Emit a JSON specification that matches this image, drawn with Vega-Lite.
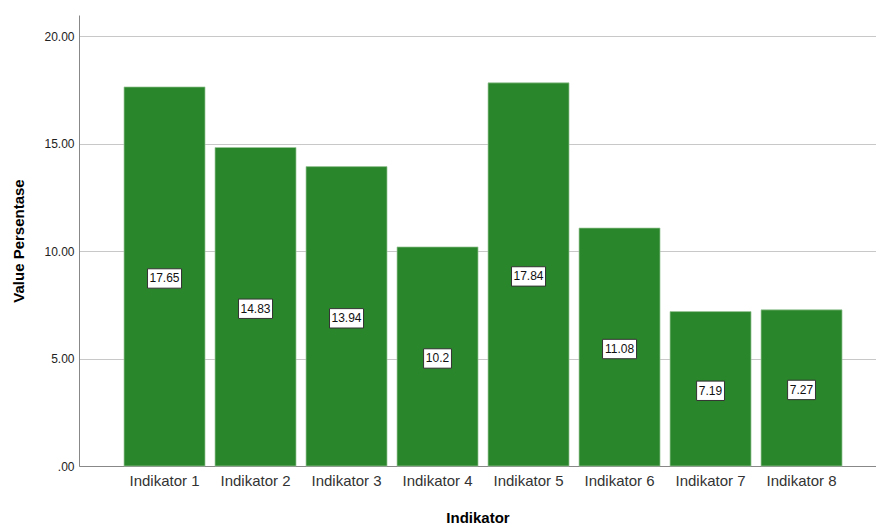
{
  "$schema": "https://vega.github.io/schema/vega-lite/v6.json",
  "autosize": "none",
  "width": 797,
  "height": 451,
  "padding": {"left": 79, "top": 15, "right": 0, "bottom": 59},
  "background": "white",
  "config": {
    "view": {"stroke": null},
    "font": "Liberation Sans"
  },
  "data": {
    "values": [
      {"indikator": "Indikator 1", "value": 17.65, "label": "17.65"},
      {"indikator": "Indikator 2", "value": 14.83, "label": "14.83"},
      {"indikator": "Indikator 3", "value": 13.94, "label": "13.94"},
      {"indikator": "Indikator 4", "value": 10.2, "label": "10.2"},
      {"indikator": "Indikator 5", "value": 17.84, "label": "17.84"},
      {"indikator": "Indikator 6", "value": 11.08, "label": "11.08"},
      {"indikator": "Indikator 7", "value": 7.19, "label": "7.19"},
      {"indikator": "Indikator 8", "value": 7.27, "label": "7.27"}
    ]
  },
  "encoding": {
    "x": {
      "field": "indikator",
      "type": "nominal",
      "sort": null,
      "scale": {"paddingInner": 0.11, "paddingOuter": 0.434, "align": 0.57},
      "axis": {
        "title": "Indikator",
        "titleFontSize": 15,
        "titleFontWeight": "bold",
        "titleColor": "#000",
        "titlePadding": 22,
        "labelAngle": 0,
        "labelFontSize": 15,
        "labelColor": "#333",
        "labelPadding": 7,
        "ticks": false,
        "domainColor": "#888",
        "grid": false
      }
    }
  },
  "layer": [
    {
      "mark": {"type": "bar", "color": "#2a862a", "stroke": "#9cc79c", "strokeWidth": 0.7},
      "encoding": {
        "y": {
          "field": "value",
          "type": "quantitative",
          "scale": {"domain": [0, 21], "nice": false},
          "axis": {
            "title": "Value Persentase",
            "titleFontSize": 15,
            "titleFontWeight": "bold",
            "titleColor": "#000",
            "titlePadding": 17,
            "values": [0, 5, 10, 15, 20],
            "labelExpr": "datum.value == 0 ? '.00' : format(datum.value, '.2f')",
            "labelFontSize": 12,
            "labelColor": "#222",
            "labelPadding": 5,
            "ticks": false,
            "domainColor": "#888",
            "grid": true,
            "gridColor": "#c8c8c8",
            "gridWidth": 1
          }
        }
      }
    },
    {
      "transform": [{"calculate": "datum.value / 2", "as": "mid"}],
      "mark": {"type": "point", "filled": true, "fill": "white", "stroke": "#333", "strokeWidth": 1, "opacity": 1, "size": 1156, "yOffset": 2},
      "encoding": {
        "y": {"field": "mid", "type": "quantitative"},
        "shape": {
          "condition": {"test": "length(datum.label) > 4", "value": "M-1,-0.57H1V0.57H-1Z"},
          "value": "M-0.82,-0.57H0.82V0.57H-0.82Z"
        }
      }
    },
    {
      "transform": [{"calculate": "datum.value / 2", "as": "mid"}],
      "mark": {"type": "text", "fontSize": 12, "color": "#111", "baseline": "middle", "align": "center", "dy": 2},
      "encoding": {
        "y": {"field": "mid", "type": "quantitative"},
        "text": {"field": "label"}
      }
    }
  ]
}
